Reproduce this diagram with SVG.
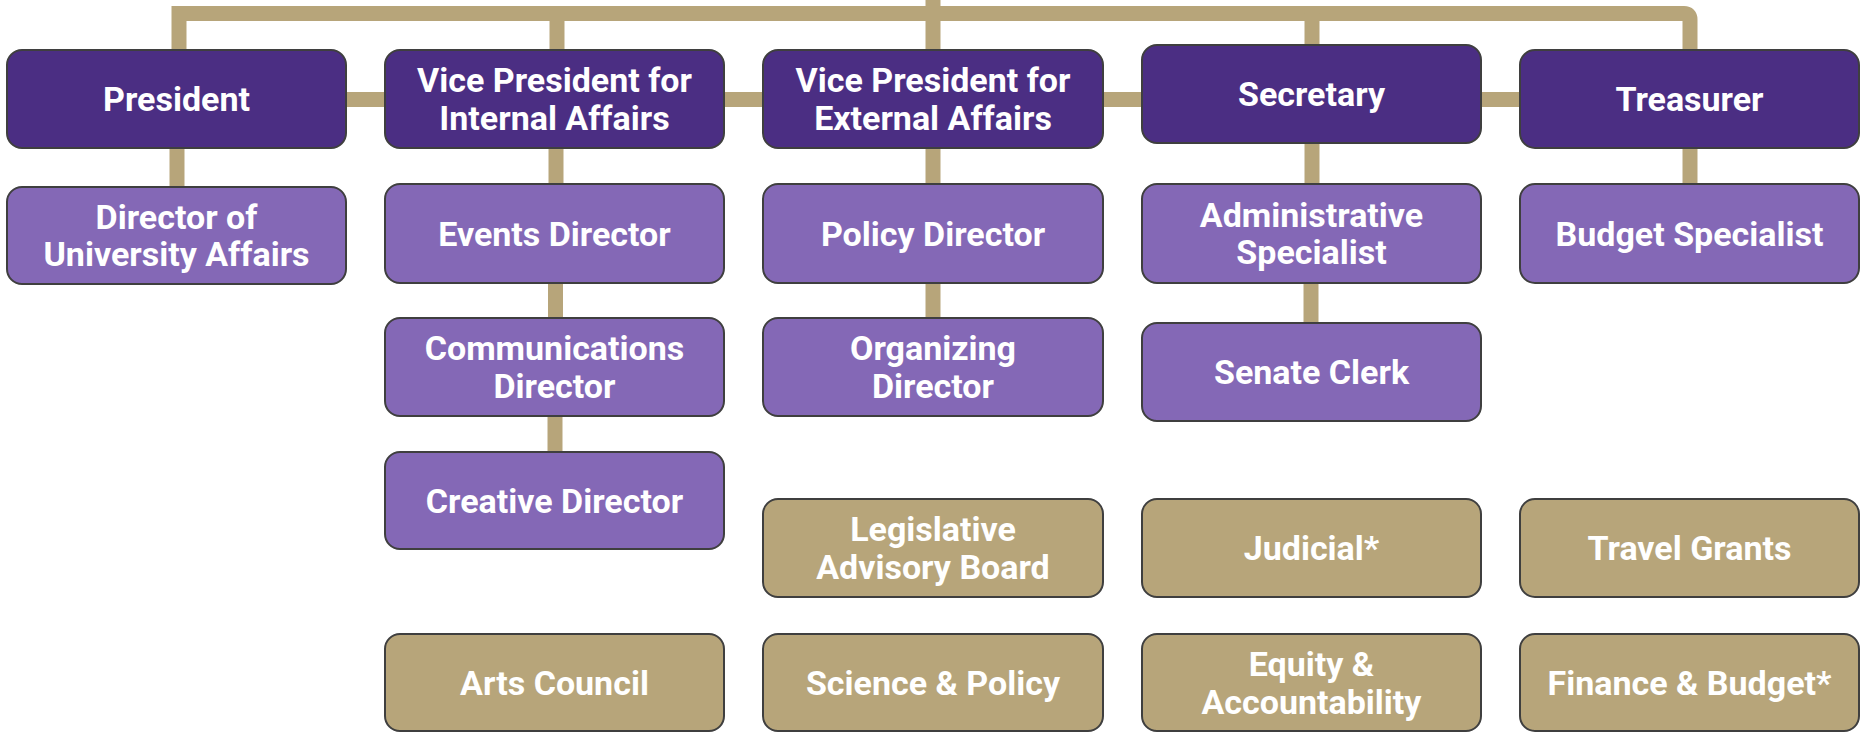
<svg xmlns="http://www.w3.org/2000/svg" width="1865" height="733" viewBox="0 0 1865 733">
<style>
.conn{fill:none;stroke:#B7A57A;stroke-width:15;stroke-linejoin:miter}
.box{stroke:#3F3F3F;stroke-width:2}
.dark{fill:#4B2E83}
.light{fill:#8468B6}
.gold{fill:#B7A57A}
text{font-family:Roboto,"Liberation Sans",sans-serif;font-weight:bold;font-size:34px;fill:#FFFFFF;text-anchor:middle}
</style>
<rect width="1865" height="733" fill="#FFFFFF"/>
<g id="connectors">
<path class="conn" d="M179,50 V13.5 H1684 Q1690,13.5 1690,19.5 V50"/>
<path class="conn" d="M557,13.5 V50"/>
<path class="conn" d="M933,0 V50"/>
<path class="conn" d="M1312,13.5 V45"/>
<path class="conn" d="M346,99.5 H1520"/>
<path class="conn" d="M177,148 V187"/>
<path class="conn" d="M556,148 V184"/>
<path class="conn" d="M555.5,283 V318"/>
<path class="conn" d="M555,416 V452"/>
<path class="conn" d="M933,148 V184"/>
<path class="conn" d="M933,283 V318"/>
<path class="conn" d="M1312,143 V184"/>
<path class="conn" d="M1311,283 V323"/>
<path class="conn" d="M1690,148 V184"/>
</g>
<g id="president"><rect class="box dark" x="7" y="50" width="339" height="98" rx="15"/><text x="176.5" y="111">President</text></g>
<g id="director-university-affairs"><rect class="box light" x="7" y="187" width="339" height="97" rx="15"/><text x="176.5" y="228.5">Director of</text><text x="176.5" y="266">University Affairs</text></g>
<g id="vp-internal"><rect class="box dark" x="385" y="50" width="339" height="98" rx="15"/><text x="554.5" y="92">Vice President for</text><text x="554.5" y="129.5">Internal Affairs</text></g>
<g id="events-director"><rect class="box light" x="385" y="184" width="339" height="99" rx="15"/><text x="554.5" y="245.5">Events Director</text></g>
<g id="communications-director"><rect class="box light" x="385" y="318" width="339" height="98" rx="15"/><text x="554.5" y="360">Communications</text><text x="554.5" y="397.5">Director</text></g>
<g id="creative-director"><rect class="box light" x="385" y="452" width="339" height="97" rx="15"/><text x="554.5" y="512.5">Creative Director</text></g>
<g id="arts-council"><rect class="box gold" x="385" y="634" width="339" height="97" rx="15"/><text x="554.5" y="694.5">Arts Council</text></g>
<g id="vp-external"><rect class="box dark" x="763" y="50" width="340" height="98" rx="15"/><text x="933" y="92">Vice President for</text><text x="933" y="129.5">External Affairs</text></g>
<g id="policy-director"><rect class="box light" x="763" y="184" width="340" height="99" rx="15"/><text x="933" y="245.5">Policy Director</text></g>
<g id="organizing-director"><rect class="box light" x="763" y="318" width="340" height="98" rx="15"/><text x="933" y="360">Organizing</text><text x="933" y="397.5">Director</text></g>
<g id="legislative-advisory-board"><rect class="box gold" x="763" y="499" width="340" height="98" rx="15"/><text x="933" y="541">Legislative</text><text x="933" y="578.5">Advisory Board</text></g>
<g id="science-policy"><rect class="box gold" x="763" y="634" width="340" height="97" rx="15"/><text x="933" y="694.5">Science &amp; Policy</text></g>
<g id="secretary"><rect class="box dark" x="1142" y="45" width="339" height="98" rx="15"/><text x="1311.5" y="106">Secretary</text></g>
<g id="administrative-specialist"><rect class="box light" x="1142" y="184" width="339" height="99" rx="15"/><text x="1311.5" y="226.5">Administrative</text><text x="1311.5" y="264">Specialist</text></g>
<g id="senate-clerk"><rect class="box light" x="1142" y="323" width="339" height="98" rx="15"/><text x="1311.5" y="384">Senate Clerk</text></g>
<g id="judicial"><rect class="box gold" x="1142" y="499" width="339" height="98" rx="15"/><text x="1311.5" y="560">Judicial*</text></g>
<g id="equity-accountability"><rect class="box gold" x="1142" y="634" width="339" height="97" rx="15"/><text x="1311.5" y="676">Equity &amp;</text><text x="1311.5" y="713.5">Accountability</text></g>
<g id="treasurer"><rect class="box dark" x="1520" y="50" width="339" height="98" rx="15"/><text x="1689.5" y="111">Treasurer</text></g>
<g id="budget-specialist"><rect class="box light" x="1520" y="184" width="339" height="99" rx="15"/><text x="1689.5" y="245.5">Budget Specialist</text></g>
<g id="travel-grants"><rect class="box gold" x="1520" y="499" width="339" height="98" rx="15"/><text x="1689.5" y="560">Travel Grants</text></g>
<g id="finance-budget"><rect class="box gold" x="1520" y="634" width="339" height="97" rx="15"/><text x="1689.5" y="694.5">Finance &amp; Budget*</text></g>
</svg>
